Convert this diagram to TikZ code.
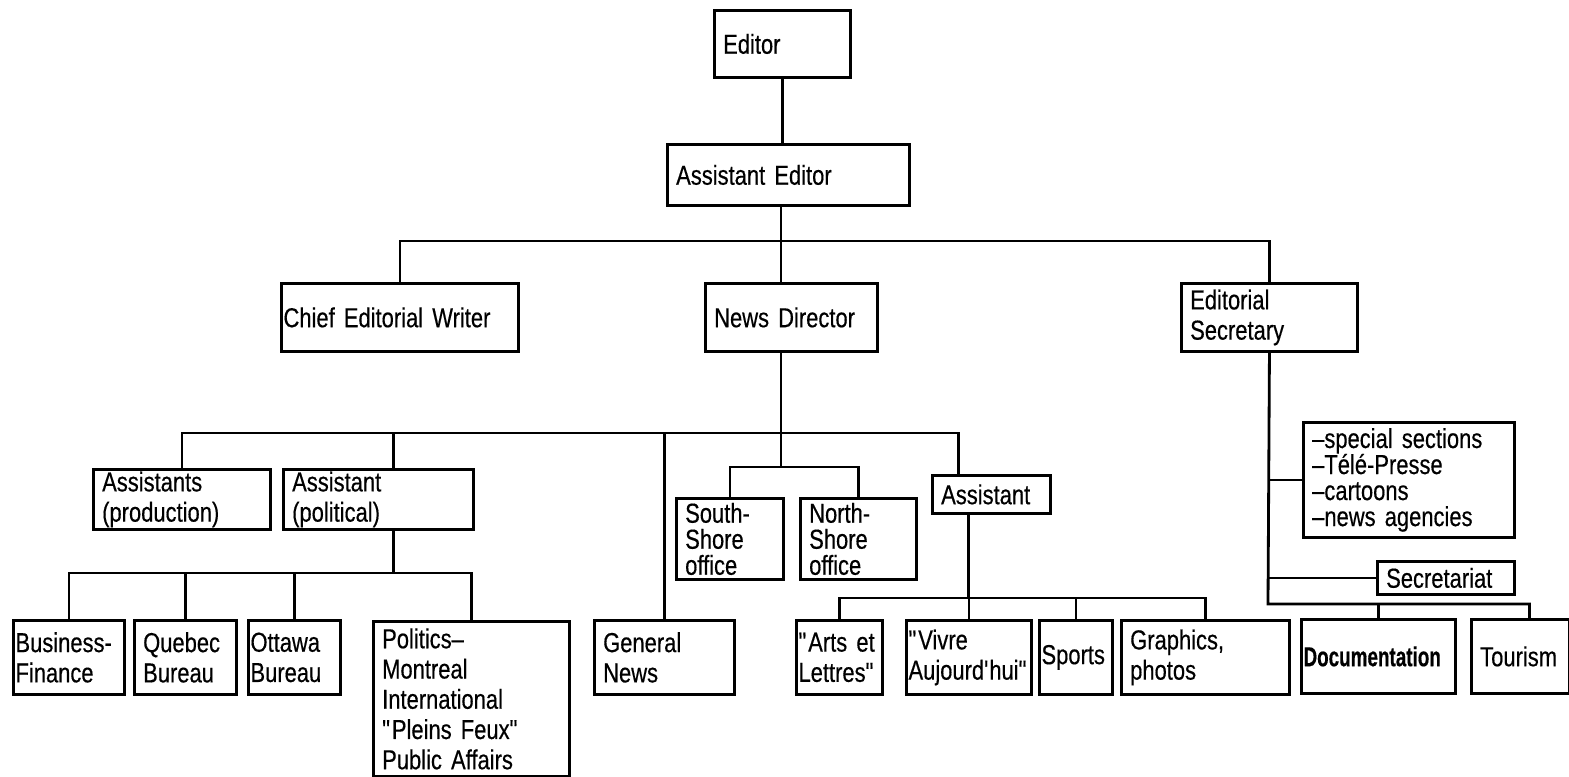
\documentclass[tikz,border=0pt]{standalone}
\usepackage{fontspec}
\setmainfont{Liberation Sans}[FakeStretch=0.8,FakeBold=0.4]

\begin{document}
\begin{tikzpicture}[x=0.01cm,y=-0.01cm,line width=0.8pt,
  unit/.style={rectangle,draw,anchor=north west,align=left,inner xsep=2.5pt,inner ysep=0pt,font=\fontsize{7.8}{8.6}\selectfont},
  box/.style 2 args={unit,minimum width=#1,minimum height=#2,text width=#1-5pt},
  tight box/.style 2 args={unit,inner xsep=0.6pt,minimum width=#1,minimum height=#2,text width=#1-1.2pt},
  packed/.style={font=\fontsize{7.8}{7.4}\selectfont}]
  \useasboundingbox (0,0) rectangle (1569,777);

  % top levels
  \node[box={1.36cm}{0.67cm}] (editor) at (713,9) {Editor};
  \node[box={2.42cm}{0.61cm}] (asstedit) at (666,143) {Assistant Editor};
  \node[tight box={2.37cm}{0.68cm}] (chief) at (280,282) {Chief Editorial Writer};
  \node[box={1.72cm}{0.68cm}] (newsdir) at (704,282) {News Director};
  \node[box={1.76cm}{0.68cm}] (edsec) at (1180,282) {Editorial\\Secretary};

  % news desk
  \node[box={1.77cm}{0.60cm}] (asstprod) at (92,468) {Assistants\\(production)};
  \node[box={1.90cm}{0.60cm}] (asstpol) at (282,468) {Assistant\\(political)};
  \node[box={1.07cm}{0.81cm},packed] (south) at (675,497) {South-\\Shore\\office};
  \node[box={1.16cm}{0.81cm},packed] (north) at (799,497) {North-\\Shore\\office};
  \node[box={1.18cm}{0.38cm}] (assist) at (931,474) {Assistant};

  % bottom row
  \node[tight box={1.11cm}{0.74cm}] (business) at (12,619) {Business-\\Finance};
  \node[box={1.02cm}{0.74cm}] (quebec) at (133,619) {Quebec\\Bureau};
  \node[tight box={0.92cm}{0.74cm}] (ottawa) at (247,619) {Ottawa\\Bureau};
  \node[box={1.96cm}{1.55cm}] (politics) at (372,620) {Politics--\\Montreal\\International\\\textquotedbl Pleins Feux\textquotedbl\\Public Affairs};
  \node[box={1.40cm}{0.74cm}] (genews) at (593,619) {General\\News};
  \node[tight box={0.86cm}{0.74cm}] (arts) at (795,619) {\textquotedbl Arts et\\Lettres\textquotedbl};
  \node[tight box={1.25cm}{0.74cm}] (vivre) at (905,619) {\textquotedbl Vivre\\Aujourd\textquotesingle hui\textquotedbl};
  \node[tight box={0.73cm}{0.74cm}] (sports) at (1038,619) {Sports};
  \node[box={1.68cm}{0.74cm}] (graphics) at (1120,619) {Graphics,\\photos};

  % editorial secretary side
  \node[box={2.11cm}{1.15cm},packed] (special) at (1302,421) {--special sections\\--Télé-Presse\\--cartoons\\--news agencies};
  \node[box={1.37cm}{0.33cm}] (secr) at (1376,560) {Secretariat};
  \node[tight box={1.54cm}{0.74cm}] (docu) at (1300,618) {\scalebox{0.86}[1]{\bfseries Documentation}};
  \node[box={0.98cm}{0.74cm}] (tour) at (1470,618) {Tourism};

  % buses
  \coordinate (top bus) at (781,241);
  \coordinate (news bus) at (781,433);
  \coordinate (shore bus) at (781,467);
  \coordinate (pol bus) at (392,573);
  \coordinate (desk bus) at (967,598);
  \coordinate (sec bus) at (1268,604);

  \draw (editor.south) -- (editor.south |- asstedit.north);
  \draw (asstedit.south -| top bus) -- (newsdir.north -| top bus);
  \draw (chief.north) |- (top bus) -| (edsec.north);

  \draw (newsdir.south -| news bus) -- (shore bus);
  \draw (asstprod.north) |- (news bus) -| ([xshift=-0.33cm]assist.north);
  \draw ([xshift=0.15cm]asstpol.north) |- (news bus);
  \draw (news bus -| genews.north) -- (genews.north);
  \draw (south.north) |- (shore bus) -| (north.north);

  \draw ([xshift=0.15cm]asstpol.south) -- ([xshift=0.15cm]asstpol.south |- pol bus);
  \draw (business.north) |- (pol bus) -| (politics.north);
  \foreach \n in {quebec,ottawa}
    \draw (pol bus -| \n.north) -- (\n.north);

  \draw ([xshift=-0.23cm]assist.south) -- ([xshift=-0.23cm]assist.south |- desk bus);
  \draw (arts.north) |- (desk bus) -| (graphics.north);
  \foreach \n in {vivre,sports}
    \draw (desk bus -| \n.north) -- (\n.north);

  \draw (edsec.south) -- (sec bus) -| ([xshift=0.09cm]tour.north);
  \draw (sec bus -| docu.north) -- (docu.north);
  \draw (special.west) -- (special.west -| sec bus);
  \draw (secr.west) -- (secr.west -| sec bus);
\end{tikzpicture}
\end{document}
